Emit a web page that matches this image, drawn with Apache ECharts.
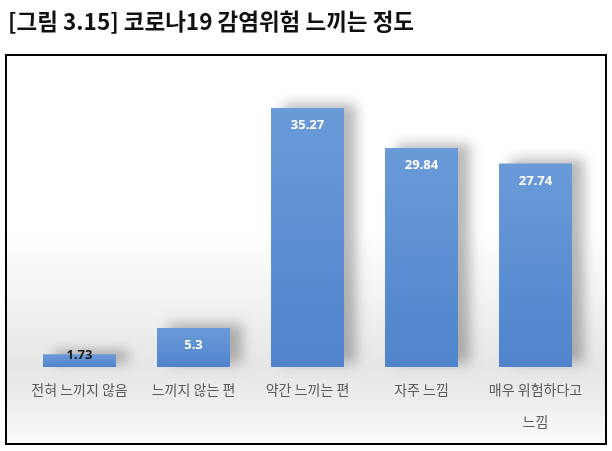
<!DOCTYPE html>
<html><head><meta charset="utf-8">
<script src="https://cdn.jsdelivr.net/npm/echarts@6/dist/echarts.min.js"></script>
<style>html,body{margin:0;padding:0;background:#fff}#c{width:612px;height:451px}</style>
</head><body><div id="c"></div>
<script>
const titleText = '[그림 3.15] 코로나19 감염위험 느끼는 정도';
const categories = ['전혀 느끼지 않음', '느끼지 않는 편', '약간 느끼는 편', '자주 느낌', '매우 위험하다고\n느낌'];
const values = [1.73, 5.3, 35.27, 29.84, 27.74];

const chart = echarts.init(document.getElementById('c'));
const data = values.map((v, i) => ({
  value: v,
  label: i === 0
    ? { position: 'top', distance: -7, color: '#1a1a1a' }
    : { position: 'insideTop', distance: 11, color: '#ffffff' }
}));
chart.setOption({
  animation: false,
  title: {
    text: titleText, left: 3, top: 5,
    textStyle: { fontFamily: 'Noto Sans CJK KR', fontWeight: 'bold', fontSize: 22.5, color: '#111' }
  },
  graphic: [
    { type: 'rect', z: -10, shape: { x: 6, y: 55, width: 600, height: 389 },
      style: { fill: new echarts.graphic.LinearGradient(0, 0, 0, 1, [
        { offset: 0, color: '#ffffff' }, { offset: 0.45, color: '#ffffff' },
        { offset: 0.8, color: '#e6e6e6' }, { offset: 0.88, color: '#ececec' }, { offset: 1, color: '#fbfbfb' }]),
        stroke: '#000', lineWidth: 2 } }
  ],
  grid: { left: 22.5, right: 19.5, top: 73.4, bottom: 84, containLabel: false },
  xAxis: {
    type: 'category', data: categories,
    axisLine: { show: false }, axisTick: { show: false },
    axisLabel: { color: '#5a5a5a', fontFamily: 'Noto Sans CJK KR', fontSize: 14, margin: 7, lineHeight: 32, interval: 0 }
  },
  yAxis: { type: 'value', min: 0, max: 40, show: false, splitLine: { show: false } },
  series: [{
    type: 'bar', data: data, barCategoryGap: '36%',
    itemStyle: {
      color: new echarts.graphic.LinearGradient(0, 0, 0, 1, [
        { offset: 0, color: '#6a9ad8' }, { offset: 1, color: '#4f84cc' }]),
      shadowColor: 'rgba(0,0,0,0.28)', shadowBlur: 12, shadowOffsetX: 12, shadowOffsetY: -4
    },
    label: { show: true, fontFamily: 'Noto Sans', fontWeight: 'bold', fontSize: 13 }
  }]
});
</script></body></html>
